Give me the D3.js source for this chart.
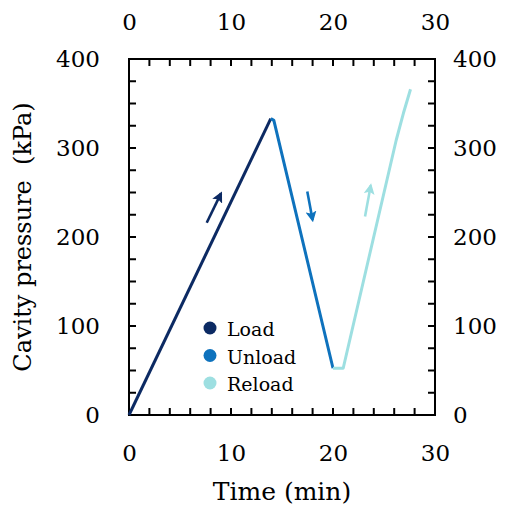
<!DOCTYPE html>
<html>
<head>
<meta charset="utf-8">
<script src="https://cdn.jsdelivr.net/npm/d3@7"></script>
<style>
  html, body { margin: 0; padding: 0; background: #fff; }
  svg { display: block; font-family: "DejaVu Serif", "Liberation Serif", serif; }
</style>
</head>
<body>
<svg id="chart" width="510" height="509"></svg>
<script>
// Cavity pressure during load / unload / reload cycles
const loadTime = [0, 13.9];
const loadPressure = [0, 333];
const unloadTime = [13.9, 14.2, 20.0];
const unloadPressure = [333, 331, 52.5];
const reloadTime = [20.0, 21.0, 26.2, 26.9, 27.6];
const reloadPressure = [52.5, 52.5, 309, 339, 366];

// direction arrows: [t0, p0, t1, p1]
const loadArrow = [7.62, 216, 9.02, 249];
const unloadArrow = [17.48, 251, 18.0, 219];
const reloadArrow = [23.14, 223, 23.7, 258];

const seriesNames = ["Load", "Unload", "Reload"];
const seriesColors = ["#0c2a63", "#0e72bd", "#9ddfe1"];

const xTicksMinor = d3.range(0, 31, 2);
const xTickLabels = [0, 10, 20, 30];
const yTicksMinor = d3.range(0, 401, 25);
const yTickLabels = [0, 100, 200, 300, 400];

const svg = d3.select("#chart");
const L = 129, R = 435, T = 59, B = 415;
const TICK = 7;

const x = d3.scaleLinear().domain([0, 30]).range([L, R]);
const y = d3.scaleLinear().domain([0, 400]).range([B, T]);

function styleAxis(g) {
  g.select(".domain").remove();
  g.selectAll(".tick line").remove();
  g.selectAll(".tick text").attr("fill", "#000").style("font-size", "23px")
    .style("font-family", "DejaVu Serif, serif");
}

// tick labels
svg.append("g").attr("transform", `translate(0,${B})`)
  .call(d3.axisBottom(x).tickValues(xTickLabels).tickSize(0).tickPadding(30))
  .call(styleAxis);
svg.append("g").attr("transform", `translate(0,${T})`)
  .call(d3.axisTop(x).tickValues(xTickLabels).tickSize(0).tickPadding(29))
  .call(styleAxis);
svg.append("g").attr("transform", `translate(${L},0)`)
  .call(d3.axisLeft(y).tickValues(yTickLabels).tickSize(0).tickPadding(29))
  .call(styleAxis);
svg.append("g").attr("transform", `translate(${R},0)`)
  .call(d3.axisRight(y).tickValues(yTickLabels).tickSize(0).tickPadding(18))
  .call(styleAxis);

// inward tick marks on all four sides
const tickGroup = svg.append("g").attr("class", "minor-ticks");
function tickLines(vals, fn) {
  tickGroup.append("g").selectAll("line").data(vals).join("line")
    .attr("stroke", "#000").attr("stroke-width", 2)
    .each(function (d) { fn(d3.select(this), d); });
}
tickLines(xTicksMinor, (s, d) => s.attr("x1", x(d)).attr("x2", x(d)).attr("y1", B).attr("y2", B - TICK));
tickLines(xTicksMinor, (s, d) => s.attr("x1", x(d)).attr("x2", x(d)).attr("y1", T).attr("y2", T + TICK));
tickLines(yTicksMinor, (s, d) => s.attr("y1", y(d)).attr("y2", y(d)).attr("x1", L).attr("x2", L + TICK));
tickLines(yTicksMinor, (s, d) => s.attr("y1", y(d)).attr("y2", y(d)).attr("x1", R).attr("x2", R - TICK));

// plot frame
svg.append("rect").attr("x", L).attr("y", T).attr("width", R - L).attr("height", B - T)
  .attr("fill", "none").attr("stroke", "#000").attr("stroke-width", 2);

// series lines
const line = d3.line().x(d => x(d[0])).y(d => y(d[1]));
const series = [
  d3.zip(loadTime, loadPressure),
  d3.zip(unloadTime, unloadPressure),
  d3.zip(reloadTime, reloadPressure)
];
series.forEach((pts, i) => {
  svg.append("path").datum(pts).attr("d", line)
    .attr("fill", "none").attr("stroke", seriesColors[i])
    .attr("stroke-width", 3).attr("stroke-linejoin", "round");
});

// arrows
const defs = svg.append("defs");
seriesColors.forEach((c, i) => {
  defs.append("marker").attr("id", "head" + i)
    .attr("viewBox", "0 0 10 10").attr("refX", 8).attr("refY", 5)
    .attr("markerWidth", 4.2).attr("markerHeight", 4.2).attr("orient", "auto")
    .append("path").attr("d", "M0,0 L10,5 L0,10 L2,5 Z").attr("fill", c);
});
[loadArrow, unloadArrow, reloadArrow].forEach((a, i) => {
  svg.append("line")
    .attr("x1", x(a[0])).attr("y1", y(a[1]))
    .attr("x2", x(a[2])).attr("y2", y(a[3]))
    .attr("stroke", seriesColors[i]).attr("stroke-width", 2.6)
    .attr("marker-end", `url(#head${i})`);
});

// legend
const legend = svg.append("g").attr("transform", "translate(210,328)");
seriesNames.forEach((name, i) => {
  const g = legend.append("g").attr("transform", `translate(0,${i * 27.5})`);
  g.append("circle").attr("r", 6.5).attr("fill", seriesColors[i]);
  g.append("text").attr("x", 17).attr("y", 8).text(name)
    .style("font-size", "19px").attr("fill", "#000");
});

// axis titles
svg.append("text").attr("x", (L + R) / 2).attr("y", 500)
  .attr("text-anchor", "middle").style("font-size", "25px").text("Time (min)");
svg.append("text")
  .attr("transform", `translate(31,${(T + B) / 2}) rotate(-90)`)
  .attr("text-anchor", "middle").style("font-size", "24px")
  .attr("xml:space", "preserve")
  .text("Cavity pressure  (kPa)");
</script>
</body>
</html>
